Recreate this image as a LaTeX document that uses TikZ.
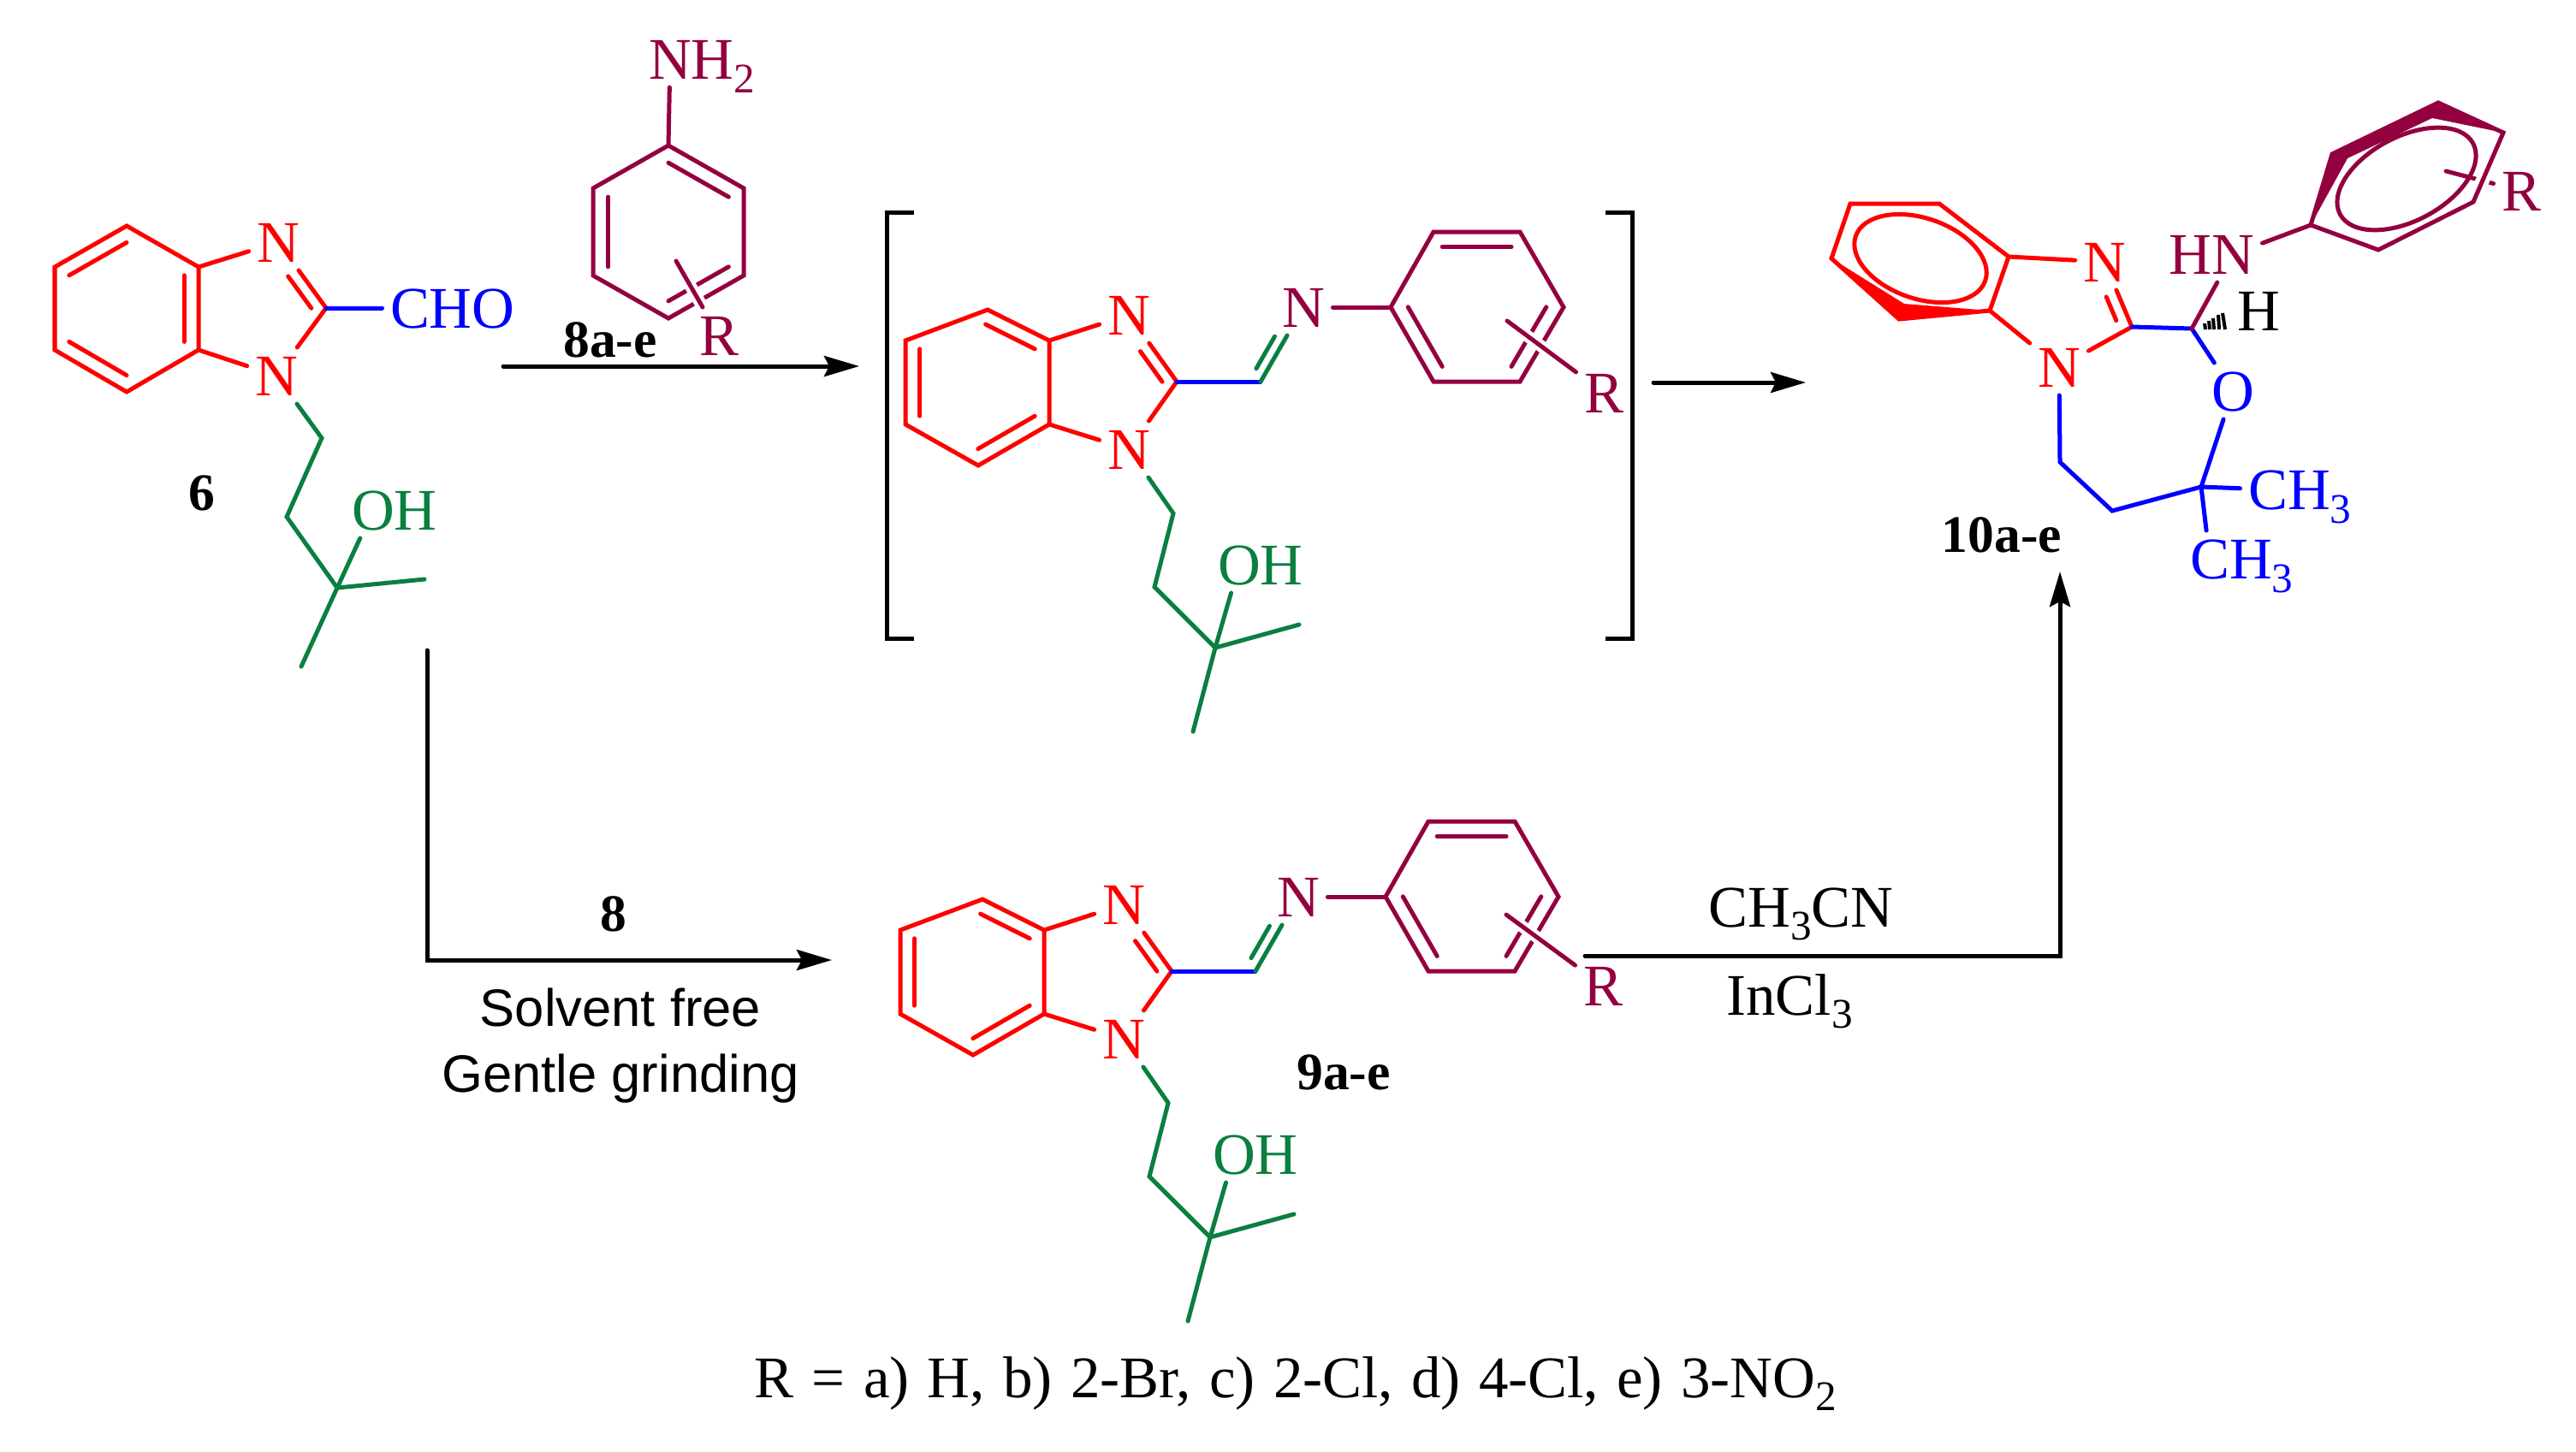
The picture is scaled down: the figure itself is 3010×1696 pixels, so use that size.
\documentclass[tikz,border=0pt]{standalone}
\usepackage{fontspec}
\setmainfont{Liberation Serif}
\newfontfamily\labelsans{Liberation Sans}
\usetikzlibrary{calc,arrows.meta}

\definecolor{bondred}{HTML}{FF0000}
\definecolor{bondblue}{HTML}{0000FF}
\definecolor{bondgreen}{HTML}{0A7F3F}
\definecolor{bondplum}{HTML}{930040}

\newcommand{\chemfont}{\fontsize{19.6}{22}\selectfont}
\newcommand{\sbs}[1]{\raisebox{-.23em}{\fontsize{14}{14}\selectfont #1}}
% inner line of a double bond, pulled towards the ring centre
\newcommand{\inbond}[4][]{\draw[#1] ($(#2)!.2!(#4)$) -- ($(#3)!.2!(#4)$);}
% ring substituent, cuts a gap in whatever it crosses
\newcommand{\subst}[3][.14cm]{%
	\draw[white,line width=#1] (#2) -- (#3);
	\draw[bondplum] (#2) -- (#3);}

\tikzset{
	atom/.style={font=\chemfont,inner sep=.07cm,text height=.47cm,text depth=0cm},
	cmpd/.style={font=\bfseries\fontsize{17.5}{20}\selectfont,inner sep=0pt,text height=.43cm,text depth=0cm},
	rxntext/.style={font=\chemfont,inner sep=0pt,anchor=base west},
	condtext/.style={font=\labelsans\fontsize{17.5}{20}\selectfont,inner sep=0pt,anchor=base},
	rxn/.style={-{Stealth[length=.41cm,width=.24cm,inset=.06cm]},line join=miter},
	imine/.pic={
		\path (1154,362) coordinate (-a1) (1226,398) coordinate (-a2) (1226,496) coordinate (-a3)
			(1143,544) coordinate (-a4) (1058,496) coordinate (-a5) (1058,398) coordinate (-a6)
			(1142,447) coordinate (-actr) (1290,447) coordinate (-zctr)
			(1375,446) coordinate (-c2) (1473,446) coordinate (-ch) (1430,400) coordinate (-chside)
			(1625,359) coordinate (-p1) (1675,271) coordinate (-p2) (1776,271) coordinate (-p3)
			(1827,359) coordinate (-p4) (1776,446) coordinate (-p5) (1675,446) coordinate (-p6)
			(1726,358) coordinate (-pctr)
			(1371,600) coordinate (-d1) (1349,686) coordinate (-d2) (1420,757) coordinate (-d3)
			(1518,730) coordinate (-me1) (1394,855) coordinate (-me2);
		\node [atom,bondred] (-n1) at (1319,368) {N};
		\node [atom,bondred] (-n2) at (1319,525) {N};
		\node [atom,bondplum] (-n3) at (1523,359) {N};
		\node [atom,bondgreen] (-oh) at (1448,660) {O\rlap{H}};
		\draw[bondred] (-a1)--(-a2)--(-a3)--(-a4)--(-a5)--(-a6)--cycle;
		\inbond[bondred]{-a1}{-a2}{-actr}
		\inbond[bondred]{-a3}{-a4}{-actr}
		\inbond[bondred]{-a5}{-a6}{-actr}
		\draw[bondred] (-a2) -- (-n1);
		\draw[bondred] (-a3) -- (-n2);
		\draw[bondred] (-c2) -- (-n1);
		\draw[bondred] (-c2) -- (-n2);
		\draw[bondred,shorten >=.33cm] ($(-c2)!.2!(-zctr)$) -- ($(-n1)!.2!(-zctr)$);
		\draw[bondblue] (-c2) -- (-ch);
		\draw[bondgreen] (-ch) -- (-n3);
		\draw[bondgreen,shorten <=.07cm,shorten >=.3cm] ($(-ch)!.2!(-chside)$) -- ($(-n3)!.2!(-chside)$);
		\draw[bondplum] (-n3) -- (-p1);
		\draw[bondplum] (-p1)--(-p2)--(-p3)--(-p4)--(-p5)--(-p6)--cycle;
		\inbond[bondplum]{-p2}{-p3}{-pctr}
		\inbond[bondplum]{-p4}{-p5}{-pctr}
		\inbond[bondplum]{-p6}{-p1}{-pctr}
		\draw[bondgreen] (-n2) -- (-d1) -- (-d2) -- (-d3) -- (-me1);
		\draw[bondgreen] (-d3) -- (-oh);
		\draw[bondgreen] (-d3) -- (-me2);
	}
}

\begin{document}
\begin{tikzpicture}[x=.01cm,y=-.01cm,line width=.05cm,line cap=round]
	\useasboundingbox (0,0) rectangle (3010,1696);

	% aldehyde 6
	\path (148,264) coordinate (a1) (232,312) coordinate (a2) (232,409) coordinate (a3)
		(148,458) coordinate (a4) (64,409) coordinate (a5) (64,312) coordinate (a6)
		(148,361) coordinate (actr) (295,361) coordinate (zctr) (381,360) coordinate (c2)
		(376,512) coordinate (d1) (335,604) coordinate (d2) (394,687) coordinate (d3)
		(496,677) coordinate (me1) (352,779) coordinate (me2);
	\node [atom,bondred] (n1) at (325,283) {N};
	\node [atom,bondred] (n2) at (323,439) {N};
	\node [atom,bondblue] (cho) at (479,360) {C\rlap{HO}};
	\node [atom,bondgreen] (oh) at (436,596) {O\rlap{H}};
	\node [cmpd] (six) at (236,575) {6};
	\draw[bondred] (a1)--(a2)--(a3)--(a4)--(a5)--(a6)--cycle;
	\inbond[bondred]{a1}{a6}{actr}
	\inbond[bondred]{a2}{a3}{actr}
	\inbond[bondred]{a4}{a5}{actr}
	\draw[bondred] (a2) -- (n1);
	\draw[bondred] (a3) -- (n2);
	\draw[bondred] (c2) -- (n1);
	\draw[bondred] (c2) -- (n2);
	\draw[bondred,shorten >=.3cm] ($(c2)!.2!(zctr)$) -- ($(n1)!.2!(zctr)$);
	\draw[bondblue] (c2) -- (cho);
	\draw[bondgreen] (n2) -- (d1) -- (d2) -- (d3) -- (me1);
	\draw[bondgreen] (d3) -- (oh);
	\draw[bondgreen] (d3) -- (me2);

	% aniline 8
	\path (781,170) coordinate (b1) (869,220) coordinate (b2) (869,322) coordinate (b3)
		(781,372) coordinate (b4) (693,322) coordinate (b5) (693,220) coordinate (b6)
		(781,271) coordinate (bctr) (790,305) coordinate (bsub);
	\node [atom,bondplum] (nh) at (783,69) {N\rlap{H\sbs{2}}};
	\node [atom,bondplum] (br) at (840,392) {R};
	\draw[bondplum] (nh) -- (b1);
	\draw[bondplum] (b1)--(b2)--(b3)--(b4)--(b5)--(b6)--cycle;
	\inbond[bondplum]{b1}{b2}{bctr}
	\inbond[bondplum]{b3}{b4}{bctr}
	\inbond[bondplum]{b5}{b6}{bctr}
	\subst{bsub}{br}

	% intermediate and 9a-e have the same skeleton
	\pic (im) at (0,0) {imine};
	\pic (gr) at (-6,689) {imine};
	\coordinate (imsub) at (1761,375);
	\coordinate (grsub) at (1760,1069);
	\node [atom,bondplum] (imr) at (1874,459) {R};
	\node [atom,bondplum] (grr) at (1873,1152) {R};
	\subst{imsub}{imr}
	\subst{grsub}{grr}
	\draw[line cap=butt] (1068,248) -- (1036,248) -- (1036,746) -- (1068,746);
	\draw[line cap=butt] (1876,248) -- (1907,248) -- (1907,746) -- (1876,746);

	% product 10a-e
	\path (2162,238) coordinate (e1) (2266,238) coordinate (e2) (2347,300) coordinate (e3)
		(2325,363) coordinate (e4) (2219,373) coordinate (e5) (2140,302) coordinate (e6)
		(2225,355) coordinate (e7) (2491,382) coordinate (e8) (2561,384) coordinate (f1)
		(2572,569) coordinate (f2) (2468,597) coordinate (f3) (2407,540) coordinate (f4)
		(2400,345) coordinate (zctr2)
		(2700,263) coordinate (g1) (2725,180) coordinate (g2) (2849,120) coordinate (g3)
		(2925,155) coordinate (g4) (2890,236) coordinate (g5) (2779,292) coordinate (g6)
		(2842,138) coordinate (g7) (2743,185) coordinate (g8) (2858,200) coordinate (gsub);
	\node [atom,bondred] (pn1) at (2459,306) {N};
	\node [atom,bondred] (pn2) at (2406,429) {N};
	\node [atom,bondplum] (hn) at (2609,297) {\llap{H}N};
	\node [atom] (hh) at (2639,363) {H};
	\node [atom,bondblue] (oo) at (2609,457) {O};
	\node [atom,bondblue] (ch1) at (2650,572) {C\rlap{H\sbs{3}}};
	\node [atom,bondblue] (ch2) at (2582,653) {C\rlap{H\sbs{3}}};
	\node [atom,bondplum] (pr) at (2946,223) {R};
	\node [cmpd] (ten) at (2339,624) {10a-e};
	\draw[bondred] (e1)--(e2)--(e3)--(e4)--(e5)--(e6)--cycle;
	\fill[bondred] (e6)--(e5)--(e4)--(e7)--cycle;
	\draw[bondred,rotate around={-19:(2244,302)}] (2244,302) ellipse [x radius=.8cm,y radius=.47cm];
	\draw[bondred] (e3) -- (pn1);
	\draw[bondred] (e4) -- (pn2);
	\draw[bondred] (e8) -- (pn1);
	\draw[bondred] (e8) -- (pn2);
	\draw[bondred,shorten >=.36cm] ($(e8)!.2!(zctr2)$) -- ($(pn1)!.2!(zctr2)$);
	\draw[bondblue] (e8) -- (f1) -- (oo);
	\draw[bondblue] (oo) -- (f2) -- (f3) -- (f4) -- (pn2);
	\draw[bondblue] (f2) -- (ch1);
	\draw[bondblue] (f2) -- (ch2);
	\draw[bondplum] (f1) -- (hn);
	\draw[bondplum] (hn) -- (g1);
	\foreach \xb/\xt/\yt in {2577/2576/378,2582/2581/375,2587/2586/372,2593/2592/368,2600/2597/366}
		\draw[line width=.04cm,line cap=butt] (\xb,385) -- (\xt,\yt);
	\draw[bondplum] (gsub) -- (pr);
	\draw[white,line width=.16cm,line cap=butt] (g4) -- (g5);
	\draw[bondplum] (g1)--(g2)--(g3)--(g4)--(g5)--(g6)--cycle;
	\fill[bondplum] (g1)--(g2)--(g3)--(g4)--(g7)--(g8)--cycle;
	\draw[bondplum,rotate around={28:(2812,209)}] (2812,209) ellipse [x radius=.88cm,y radius=.49cm];

	% arrows
	\coordinate (s1) at (588,428);
	\coordinate (t1) at (1004,428);
	\coordinate (s2) at (1932,447);
	\coordinate (t2) at (2110,447);
	\coordinate (s3) at (499,760);
	\coordinate (k3) at (499,1122);
	\coordinate (t3) at (972,1122);
	\coordinate (s4) at (1852,1117);
	\coordinate (k4) at (2407,1117);
	\coordinate (t4) at (2407,668);
	\draw[rxn] (s1) -- (t1);
	\draw[rxn] (s2) -- (t2);
	\draw[rxn] (s3) -- (k3) -- (t3);
	\draw[rxn] (s4) -- (k4) -- (t4);

	% labels
	\node [cmpd] (eight) at (713,396) {8a-e};
	\node [cmpd] (eightb) at (717,1067) {8};
	\node [cmpd] (nine) at (1570,1252) {9a-e};
	\node [condtext] (solv) at (725,1199) {Solvent free};
	\node [condtext] (grind) at (725,1276) {Gentle grinding};
	\node [rxntext] (acn) at (1994,1083) {CH\sbs{3}CN};
	\node [rxntext] (incl) at (2015,1186) {InCl\sbs{3}};
	\node [rxntext] (rlist) at (879,1633) {\spaceskip=.31em\relax R = a) H, b) 2-Br, c) 2-Cl, d) 4-Cl, e) 3-NO\sbs{2}};
\end{tikzpicture}
\end{document}
